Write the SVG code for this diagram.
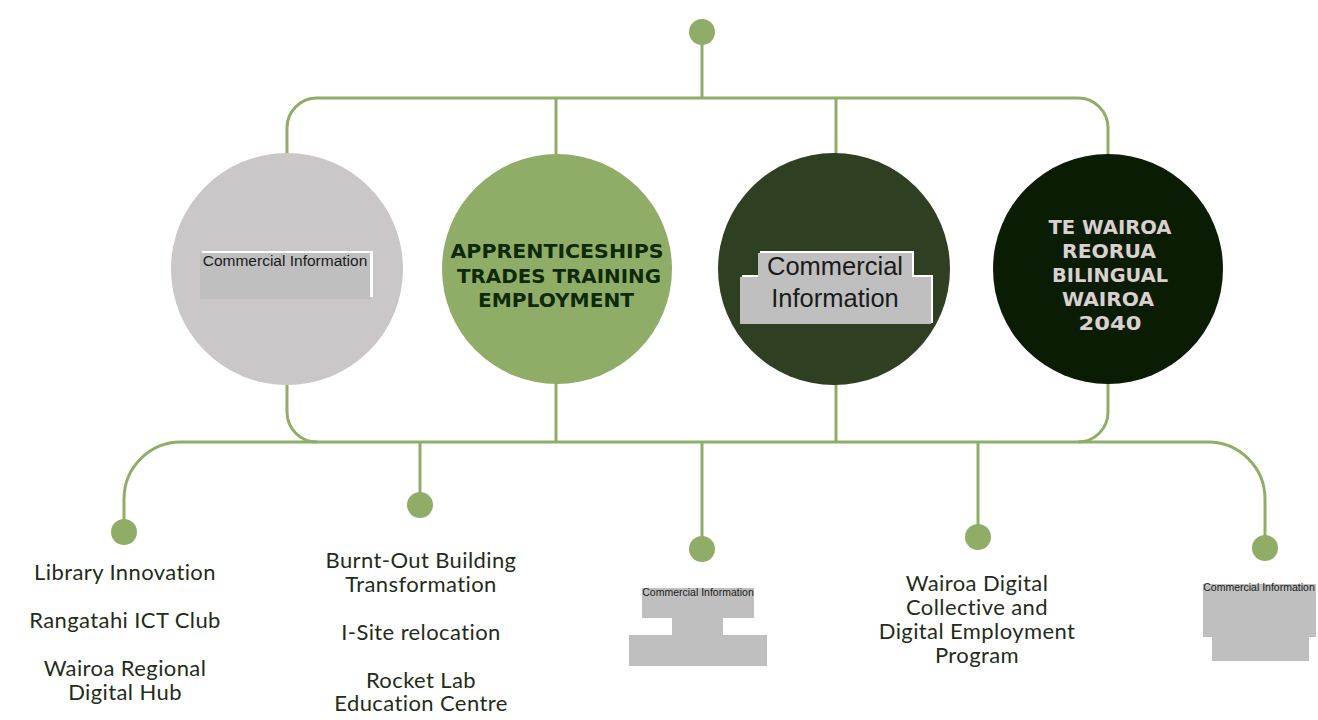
<svg xmlns="http://www.w3.org/2000/svg" width="1318" height="720" viewBox="0 0 1318 720">
<style>
.ln{fill:none;stroke:#8fad67;stroke-width:3}
.dot{fill:#8fad67}
.lbl{font-family:Lato,"Open Sans",sans-serif;font-size:22px;letter-spacing:0.4px;fill:#1f2d19;text-anchor:middle}
.ci{font-family:"Liberation Sans",Arial,sans-serif;fill:#1a1a1a}
.red{fill:#bfbfbf}
.wb{fill:#ffffff}
.disp{font-family:"DejaVu Sans",sans-serif;font-weight:bold;font-size:19px;text-anchor:middle}
</style>
<rect width="1318" height="720" fill="#ffffff"/>
<g id="connectors">
<line class="ln" x1="702" y1="40" x2="702" y2="98"/>
<path class="ln" d="M287,155 V128 A30,30 0 0 1 317,98 H1078 A30,30 0 0 1 1108,128 V155"/>
<line class="ln" x1="556" y1="98" x2="556" y2="155"/>
<line class="ln" x1="836" y1="98" x2="836" y2="155"/>
<path class="ln" d="M287,383 V412 A30,30 0 0 0 317,442"/>
<path class="ln" d="M1108,383 V412 A30,30 0 0 1 1078,442"/>
<line class="ln" x1="556" y1="383" x2="556" y2="442"/>
<line class="ln" x1="836" y1="383" x2="836" y2="442"/>
<path class="ln" d="M124,522 V499 A57,57 0 0 1 181,442 H1208 A57,57 0 0 1 1265,499 V538"/>
<line class="ln" x1="420" y1="442" x2="420" y2="495"/>
<line class="ln" x1="702" y1="442" x2="702" y2="540"/>
<line class="ln" x1="978" y1="442" x2="978" y2="527"/>
</g>
<g id="top-dot"><circle class="dot" cx="702" cy="32" r="13"/></g>
<g id="node-commercial-1">
<circle cx="287" cy="269" r="116" fill="#cbc6c8"/>
<rect class="wb" x="202" y="251" width="171" height="46"/>
<rect class="red" x="200" y="253" width="170" height="46"/>
<text class="ci" x="285" y="266" font-size="15.5" text-anchor="middle">Commercial Information</text>
</g>
<g id="node-apprenticeships">
<circle cx="557" cy="269" r="115" fill="#8fad67"/>
<text class="disp" fill="#0f2a0a"><tspan x="557" y="258" textLength="213" lengthAdjust="spacingAndGlyphs">APPRENTICESHIPS</tspan><tspan x="559" y="283" textLength="204" lengthAdjust="spacingAndGlyphs">TRADES TRAINING</tspan><tspan x="556" y="307" textLength="156" lengthAdjust="spacingAndGlyphs">EMPLOYMENT</tspan></text>
</g>
<g id="node-commercial-2">
<circle cx="834" cy="269" r="116" fill="#2f3f22"/>
<rect class="wb" x="760" y="251" width="154" height="26"/>
<rect class="wb" x="742" y="275" width="191" height="48"/>
<rect class="red" x="758" y="253" width="154" height="25"/>
<rect class="red" x="740" y="277" width="191" height="47"/>
<text class="ci" x="835" y="275" font-size="25.5" text-anchor="middle">Commercial</text>
<text class="ci" x="835" y="307" font-size="25.5" text-anchor="middle">Information</text>
</g>
<g id="node-te-wairoa">
<circle cx="1108" cy="269" r="115" fill="#0b1c04"/>
<text class="disp" fill="#d9d1d1"><tspan x="1110" y="234" textLength="123" lengthAdjust="spacingAndGlyphs">TE WAIROA</tspan><tspan x="1109" y="258" textLength="94" lengthAdjust="spacingAndGlyphs">REORUA</tspan><tspan x="1110" y="282" textLength="116" lengthAdjust="spacingAndGlyphs">BILINGUAL</tspan><tspan x="1108" y="306" textLength="92" lengthAdjust="spacingAndGlyphs">WAIROA</tspan><tspan x="1110" y="330" textLength="63" lengthAdjust="spacingAndGlyphs">2040</tspan></text>
</g>
<g id="leaf-library">
<circle class="dot" cx="124" cy="532" r="13"/>
<text class="lbl" x="125" y="580">Library Innovation</text>
<text class="lbl" x="125" y="628">Rangatahi ICT Club</text>
<text class="lbl" x="125" y="676">Wairoa Regional</text>
<text class="lbl" x="125" y="700">Digital Hub</text>
</g>
<g id="leaf-burnt-out">
<circle class="dot" cx="420" cy="505" r="13"/>
<text class="lbl" x="421" y="568">Burnt-Out Building</text>
<text class="lbl" x="421" y="592">Transformation</text>
<text class="lbl" x="421" y="640">I-Site relocation</text>
<text class="lbl" x="421" y="688">Rocket Lab</text>
<text class="lbl" x="421" y="711">Education Centre</text>
</g>
<g id="leaf-commercial-3">
<circle class="dot" cx="702" cy="549" r="13"/>
<rect class="red" x="642" y="588" width="112" height="30"/>
<rect class="red" x="672" y="617" width="51" height="19"/>
<rect class="red" x="629" y="635" width="138" height="31"/>
<text class="ci" x="698" y="596" font-size="10.5" text-anchor="middle">Commercial Information</text>
</g>
<g id="leaf-digital-collective">
<circle class="dot" cx="978" cy="537" r="13"/>
<text class="lbl" x="977" y="591">Wairoa Digital</text>
<text class="lbl" x="977" y="615">Collective and</text>
<text class="lbl" x="977" y="639">Digital Employment</text>
<text class="lbl" x="977" y="663">Program</text>
</g>
<g id="leaf-commercial-4">
<circle class="dot" cx="1265" cy="548" r="13"/>
<rect class="red" x="1203" y="584" width="113" height="53"/>
<rect class="red" x="1212" y="636" width="97" height="25"/>
<text class="ci" x="1259" y="591" font-size="10.5" text-anchor="middle">Commercial Information</text>
</g>
</svg>
